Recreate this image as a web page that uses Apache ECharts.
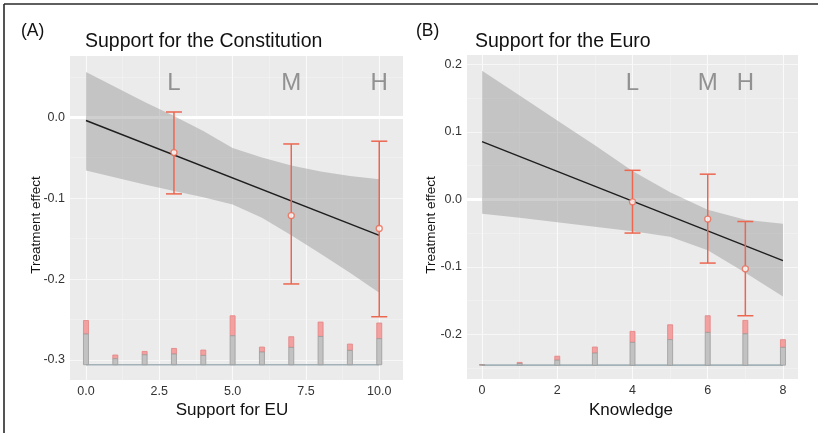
<!DOCTYPE html>
<html><head><meta charset="utf-8">
<script src="https://cdn.jsdelivr.net/npm/echarts@6/dist/echarts.min.js"></script>
<style>html,body{margin:0;padding:0;background:#fff}#c{width:818px;height:433px}</style>
</head><body><div id="c"></div>
<script>
// ---------- Panel A: Support for the Constitution ----------
const bandXA = [0,1,2,3,4,5,6,7,8,9,10];
const bandUpperA = [0.0559,0.0374,0.0189,0.0016,-0.0169,-0.0379,-0.0496,-0.0595,-0.0669,-0.0725,-0.0765];
const bandLowerA = [-0.0659,-0.0743,-0.083,-0.091,-0.099,-0.1077,-0.1243,-0.1459,-0.1688,-0.1922,-0.2168];
const fitXA = [0,10];
const fitYA = [-0.004,-0.146];
const groupXA = [3,7,10];
const groupLabelsA = ['L','M','H'];
const pointA = [-0.0437,-0.1215,-0.1375];
const ciLowA = [-0.0947,-0.206,-0.2465];
const ciHighA = [0.0065,-0.033,-0.0296];
const histXA = [0,1,2,3,4,5,6,7,8,9,10];
const histGrayA = [-0.2679,-0.2984,-0.2935,-0.2926,-0.2943,-0.270,-0.2901,-0.2844,-0.2709,-0.2881,-0.2736];
const histRedA  = [-0.2512,-0.2938,-0.2894,-0.2857,-0.2877,-0.2453,-0.2840,-0.2712,-0.2531,-0.2803,-0.2543];
const histBaseA = -0.3058;
const xTicksA = [0,2.5,5,7.5,10];
const xMinorA = [1.25,3.75,6.25,8.75];
const yTicksA = [-0.3,-0.2,-0.1,0];
const yMinorA = [-0.25,-0.15,-0.05,0.05];
const labelYA = 0.0414;

// ---------- Panel B: Support for the Euro ----------
const bandXB = [0,1,2,3,4,5,6,7,8];
const bandUpperB = [0.1908,0.154,0.117,0.080,0.042,0.0105,-0.0156,-0.0304,-0.0363];
const bandLowerB = [-0.0215,-0.0274,-0.034,-0.0407,-0.0474,-0.0556,-0.0756,-0.109,-0.144];
const fitXB = [0,8];
const fitYB = [0.0856,-0.091];
const groupXB = [4,6,7];
const groupLabelsB = ['L','M','H'];
const pointB = [-0.0037,-0.0293,-0.103];
const ciLowB = [-0.050,-0.0945,-0.1726];
const ciHighB = [0.043,0.0373,-0.0329];
const histXB = [0,1,2,3,4,5,6,7,8];
const histGrayB = [-0.2452,-0.2435,-0.2385,-0.228,-0.2121,-0.208,-0.1973,-0.1993,-0.2195];
const histRedB  = [-0.2452,-0.2418,-0.2326,-0.219,-0.1958,-0.186,-0.1726,-0.1795,-0.2081];
const histBaseB = -0.2459;
const xTicksB = [0,2,4,6,8];
const xMinorB = [1,3,5,7];
const yTicksB = [-0.2,-0.1,0,0.1,0.2];
const yMinorB = [-0.25,-0.15,-0.05,0.05,0.15];
const labelYB = 0.172;

const FONT = '"Liberation Sans", Arial, Helvetica, sans-serif';
const RED = '#EC6650';

function gridLines(xMaj, xMin, yMaj, yMin){
  const d = [];
  xMin.forEach(v=>d.push({xAxis:v, lineStyle:{color:'#F3F3F3', width:0.6, type:'solid'}}));
  yMin.forEach(v=>d.push({yAxis:v, lineStyle:{color:'#F3F3F3', width:0.6, type:'solid'}}));
  xMaj.forEach(v=>d.push({xAxis:v, lineStyle:{color:'#FAFAFA', width:1.1, type:'solid'}}));
  yMaj.forEach(v=>d.push({yAxis:v, lineStyle:{color: v===0 ? '#FFFFFF' : '#F7F7F7', width: v===0 ? 3 : 1.1, type:'solid'}}));
  return {silent:true, symbol:'none', label:{show:false}, z:1, animation:false, data:d};
}

function panelSeries(idx, P){
  const base = P.base;
  return [
    { // baseline + grid lines
      type:'line', xAxisIndex:idx, yAxisIndex:idx, z:3, symbol:'none', silent:true,
      data:[[P.histX[0], base],[P.histX[P.histX.length-1], base]],
      lineStyle:{color:'#A3B2B8', width:1.6},
      markLine: gridLines(P.xMaj, P.xMin, P.yMaj, P.yMin)
    },
    { // confidence band
      type:'custom', xAxisIndex:idx, yAxisIndex:idx, z:2, silent:true,
      data: P.bandX.map((x,i)=>[x, P.bandLo[i], P.bandUp[i]]),
      renderItem(params, api){
        if(params.dataIndex!==0) return null;
        const pts=[];
        for(let i=0;i<P.bandX.length;i++) pts.push(api.coord([P.bandX[i], P.bandUp[i]]));
        for(let i=P.bandX.length-1;i>=0;i--) pts.push(api.coord([P.bandX[i], P.bandLo[i]]));
        return {type:'polygon', shape:{points:pts}, style:{fill:'rgba(145,145,145,0.44)'}};
      }
    },
    { // histogram
      type:'custom', xAxisIndex:idx, yAxisIndex:idx, z:4, silent:true,
      data: P.histX.map((x,i)=>[x, P.histGray[i], P.histRed[i], base]),
      renderItem(params, api){
        const x=api.value(0), g=api.value(1), r=api.value(2), b=api.value(3);
        const pb=api.coord([x,b]), pg=api.coord([x,g]), pr=api.coord([x,r]);
        const w=5;
        return {type:'group', children:[
          {type:'rect', shape:{x:pb[0]-w/2, y:pr[1], width:w, height:Math.max(0,pg[1]-pr[1])}, style:{fill:'#F2A0A0', stroke:'#E68282', lineWidth:0.8}},
          {type:'rect', shape:{x:pb[0]-w/2, y:pg[1], width:w, height:Math.max(0,pb[1]-pg[1])}, style:{fill:'#C2C2C2', stroke:'#9C9C9C', lineWidth:0.8}}
        ]};
      }
    },
    { // fitted line
      type:'line', xAxisIndex:idx, yAxisIndex:idx, z:5, symbol:'none', silent:true,
      data: P.fitX.map((x,i)=>[x, P.fitY[i]]),
      lineStyle:{color:'#1E1E1E', width:1.4}
    },
    { // error bars
      type:'custom', xAxisIndex:idx, yAxisIndex:idx, z:6, silent:true,
      data: P.gx.map((x,i)=>[x, P.lo[i], P.hi[i]]),
      renderItem(params, api){
        const x=api.value(0);
        const pl=api.coord([x, api.value(1)]), ph=api.coord([x, api.value(2)]);
        const c=8, st={stroke:RED, lineWidth:1.5};
        return {type:'group', children:[
          {type:'line', shape:{x1:pl[0], y1:pl[1], x2:ph[0], y2:ph[1]}, style:st},
          {type:'line', shape:{x1:pl[0]-c, y1:pl[1], x2:pl[0]+c, y2:pl[1]}, style:st},
          {type:'line', shape:{x1:ph[0]-c, y1:ph[1], x2:ph[0]+c, y2:ph[1]}, style:st}
        ]};
      }
    },
    { // point estimates
      type:'scatter', xAxisIndex:idx, yAxisIndex:idx, z:7, silent:true,
      symbol:'circle', symbolSize:6,
      itemStyle:{color:'#FFFFFF', borderColor:RED, borderWidth:1.3},
      data: P.gx.map((x,i)=>[x, P.pt[i]])
    },
    { // L / M / H labels
      type:'scatter', xAxisIndex:idx, yAxisIndex:idx, z:7, silent:true,
      symbolSize:1, itemStyle:{color:'transparent'},
      data: P.gx.map((x,i)=>({value:[x, P.labelY], name:P.names[i]})),
      label:{show:true, position:'inside', formatter:p=>p.name, fontSize:24, color:'#7A7A7A', fontFamily:FONT}
    }
  ];
}

const A = {bandX:bandXA, bandUp:bandUpperA, bandLo:bandLowerA, fitX:fitXA, fitY:fitYA, gx:groupXA, names:groupLabelsA,
  pt:pointA, lo:ciLowA, hi:ciHighA, histX:histXA, histGray:histGrayA, histRed:histRedA, base:histBaseA,
  xMaj:xTicksA, xMin:xMinorA, yMaj:yTicksA, yMin:yMinorA, labelY:labelYA};
const B = {bandX:bandXB, bandUp:bandUpperB, bandLo:bandLowerB, fitX:fitXB, fitY:fitYB, gx:groupXB, names:groupLabelsB,
  pt:pointB, lo:ciLowB, hi:ciHighB, histX:histXB, histGray:histGrayB, histRed:histRedB, base:histBaseB,
  xMaj:xTicksB, xMin:xMinorB, yMaj:yTicksB, yMin:yMinorB, labelY:labelYB};

function xAxisCfg(idx, min, max, ticks, fmt){
  return {gridIndex:idx, type:'value', min, max,
    axisLine:{show:false}, splitLine:{show:false},
    axisTick:{show:true, customValues:ticks, length:3, lineStyle:{color:'#555', width:1}},
    axisLabel:{customValues:ticks, formatter:fmt, fontSize:12.5, color:'#333', margin:5, fontFamily:FONT}};
}
function yAxisCfg(idx, min, max, ticks){
  return {gridIndex:idx, type:'value', min, max,
    axisLine:{show:false}, splitLine:{show:false},
    axisTick:{show:true, customValues:ticks, length:3, lineStyle:{color:'#555', width:1}},
    axisLabel:{customValues:ticks, formatter:v=>v.toFixed(1), fontSize:12.5, color:'#333', margin:5, fontFamily:FONT}};
}

const chart = echarts.init(document.getElementById('c'), null, {renderer:'canvas'});
chart.setOption({
  animation:false,
  backgroundColor:'#FFFFFF',
  title:[
    {text:'(A)', left:21, top:22, padding:0, textStyle:{fontSize:17.5, fontWeight:'normal', color:'#111', fontFamily:FONT}},
    {text:'Support for the Constitution', left:85, top:32, padding:0, textStyle:{fontSize:19.5, fontWeight:'normal', color:'#111', fontFamily:FONT}},
    {text:'(B)', left:416, top:22, padding:0, textStyle:{fontSize:17.5, fontWeight:'normal', color:'#111', fontFamily:FONT}},
    {text:'Support for the Euro', left:475, top:32, padding:0, textStyle:{fontSize:19.5, fontWeight:'normal', color:'#111', fontFamily:FONT}}
  ],
  grid:[
    {left:70, top:56, width:333, height:324, show:true, backgroundColor:'#EBEBEB', borderWidth:0},
    {left:467, top:55, width:331, height:324, show:true, backgroundColor:'#EBEBEB', borderWidth:0}
  ],
  xAxis:[
    xAxisCfg(0, -0.545, 10.81, xTicksA, v=>v.toFixed(1)),
    xAxisCfg(1, -0.4, 8.4, xTicksB, v=>String(v))
  ],
  yAxis:[
    yAxisCfg(0, -0.3247, 0.0757, yTicksA),
    yAxisCfg(1, -0.2664, 0.214, yTicksB)
  ],
  graphic:[
    {type:'line', shape:{x1:4, y1:4, x2:818, y2:4}, style:{stroke:'#2A2A2A', lineWidth:1.6}, silent:true},
    {type:'line', shape:{x1:4, y1:4, x2:4, y2:433}, style:{stroke:'#2A2A2A', lineWidth:1.6}, silent:true},
    {type:'text', x:232, y:410, silent:true, style:{text:'Support for EU', font:'17px '+FONT, align:'center', verticalAlign:'middle', fill:'#111'}},
    {type:'text', x:631, y:410, silent:true, style:{text:'Knowledge', font:'17px '+FONT, align:'center', verticalAlign:'middle', fill:'#111'}},
    {type:'text', x:36, y:225, rotation:Math.PI/2, silent:true, style:{text:'Treatment effect', font:'13.5px '+FONT, align:'center', verticalAlign:'middle', fill:'#111'}},
    {type:'text', x:431, y:225, rotation:Math.PI/2, silent:true, style:{text:'Treatment effect', font:'13.5px '+FONT, align:'center', verticalAlign:'middle', fill:'#111'}}
  ],
  series:[...panelSeries(0, A), ...panelSeries(1, B)]
});
</script>
</body></html>
